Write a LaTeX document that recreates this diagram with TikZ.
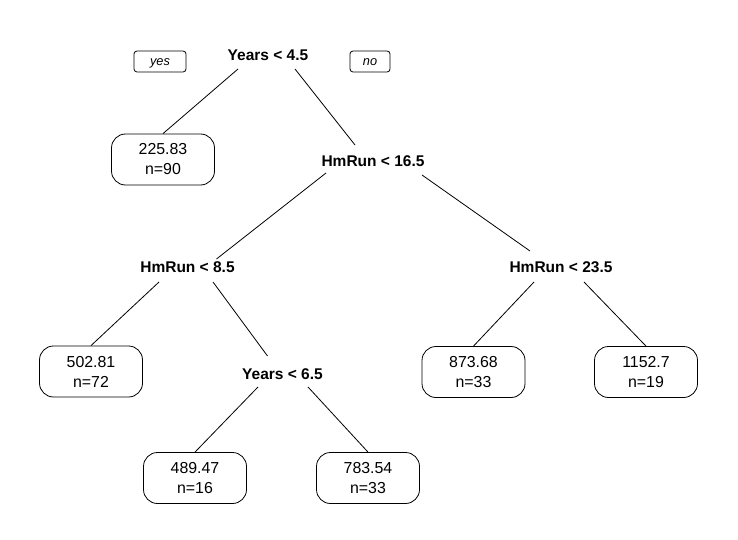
\documentclass[tikz,border=0pt]{standalone}
\usepackage{fontspec}
\setmainfont{Liberation Sans}
\begin{document}
\begin{tikzpicture}[x=1pt,y=-1pt,
  split/.style={anchor=base,inner sep=0pt,font=\fontsize{15.5}{18}\selectfont\bfseries},
  leaf/.style={draw,rounded corners=14pt,minimum width=103pt,minimum height=51pt,inner sep=0pt,align=center,font=\fontsize{15.9}{20}\selectfont,line width=0.8pt},
  tag/.style={draw,rounded corners=3pt,minimum height=21pt,inner sep=0pt,text height=8pt,text depth=0pt,font=\fontsize{12.8}{14}\selectfont\itshape,line width=0.8pt},
  branch/.style={line width=0.8pt}]
\useasboundingbox (0,0) rectangle (738,540);
\fill[white] (0,0) rectangle (738,540);
% split labels
\node[split] (yrs) at (268,61) {Years < 4.5};
\node[split] (hm16) at (373,166.5) {HmRun < 16.5};
\node[split] (hm8) at (187.5,272) {HmRun < 8.5};
\node[split] (hm23) at (561,272) {HmRun < 23.5};
\node[split] (yrs6) at (282.5,379) {Years < 6.5};
% yes / no tags
\node[tag,minimum width=52pt] (yes) at (160,61.5) {yes};
\node[tag,minimum width=40pt] (no) at (370,61.5) {no};
% leaves
\node[leaf] (l1) at (163,159.5) {225.83\\n=90};
\node[leaf] (l2) at (91,371.5) {502.81\\n=72};
\node[leaf] (l3) at (473.5,372) {873.68\\n=33};
\node[leaf] (l4) at (646,372) {1152.7\\n=19};
\node[leaf] (l5) at (195,478) {489.47\\n=16};
\node[leaf] (l6) at (368,478) {783.54\\n=33};
% branches
\draw[branch] ([shift={(-30,8)}]yrs.base) -- (l1.north);
\draw[branch] ([shift={(27,8)}]yrs.base) -- ([shift={(-18,-21.5)}]hm16.base);
\draw[branch] ([shift={(-47,6.5)}]hm16.base) -- ([shift={(29,-13)}]hm8.base);
\draw[branch] ([shift={(49,8.5)}]hm16.base) -- ([shift={(-31,-21)}]hm23.base);
\draw[branch] ([shift={(-28.5,10)}]hm8.base) -- (l2.north);
\draw[branch] ([shift={(25.5,10)}]hm8.base) -- ([shift={(-15,-23)}]yrs6.base);
\draw[branch] ([shift={(-27,10)}]hm23.base) -- (l3.north);
\draw[branch] ([shift={(23,10)}]hm23.base) -- (l4.north);
\draw[branch] ([shift={(-24.5,8)}]yrs6.base) -- (l5.north);
\draw[branch] ([shift={(25.5,8)}]yrs6.base) -- (l6.north);
\end{tikzpicture}
\end{document}
